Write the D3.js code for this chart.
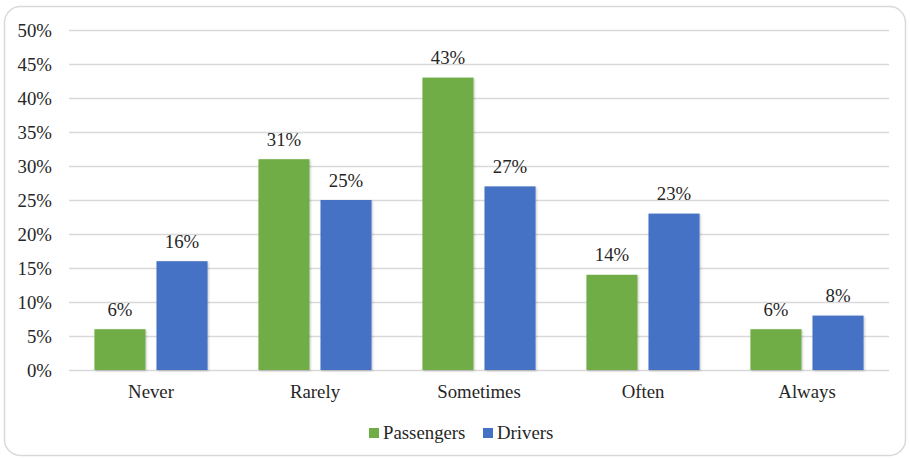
<!DOCTYPE html>
<html>
<head>
<meta charset="utf-8">
<script src="https://cdn.jsdelivr.net/npm/d3@7"></script>
<style>
  html, body { margin: 0; padding: 0; background: #fff; }
  svg { display: block; }
</style>
</head>
<body>
<svg id="chart" width="910" height="459"></svg>
<script>
// Survey responses by frequency, share of respondents (%)
const categories = ["Never", "Rarely", "Sometimes", "Often", "Always"];
const seriesNames = ["Passengers", "Drivers"];
const passengers = [6, 31, 43, 14, 6];
const drivers = [16, 25, 27, 23, 8];
const yTicks = [0, 5, 10, 15, 20, 25, 30, 35, 40, 45, 50];
const colors = ["#70AD47", "#4472C4"];

const FONT = "'Liberation Serif', 'Times New Roman', Times, serif";
const FONT_SIZE = "18.8px";
const TEXT_COLOR = "#262626";

const svg = d3.select("#chart");
const W = 910, H = 459;

// Rounded outer frame
svg.append("rect")
  .attr("x", 4.5).attr("y", 6.5)
  .attr("width", W - 9).attr("height", H - 10)
  .attr("rx", 16).attr("ry", 16)
  .attr("fill", "#fff")
  .attr("stroke", "#d9d9d9").attr("stroke-width", 1.5);

const plot = { left: 69, right: 889, top: 30, bottom: 370 };

const x0 = d3.scaleBand().domain(categories).range([plot.left, plot.right]);
const x1 = d3.scaleBand().domain(seriesNames).range([0, x0.bandwidth()]).paddingInner(0.177).paddingOuter(0.41);
const y = d3.scaleLinear().domain([0, 50]).range([plot.bottom, plot.top]);

// Soft shadow under bars
const defs = svg.append("defs");
const f = defs.append("filter").attr("id", "shadow").attr("x", "-20%").attr("y", "-20%").attr("width", "140%").attr("height", "140%");
f.append("feDropShadow").attr("dx", 1).attr("dy", 1).attr("stdDeviation", 1.2).attr("flood-color", "#000").attr("flood-opacity", 0.22);

// Gridlines
svg.append("g")
  .selectAll("line")
  .data(yTicks)
  .join("line")
  .attr("x1", plot.left).attr("x2", plot.right)
  .attr("y1", d => Math.round(y(d)) + 0.5).attr("y2", d => Math.round(y(d)) + 0.5)
  .attr("stroke", "#d9d9d9").attr("stroke-width", 1.5);

function styleText(sel) {
  sel.style("font-family", FONT).style("font-size", FONT_SIZE).attr("fill", TEXT_COLOR);
}

// Y axis labels
const yAxis = d3.axisLeft(y).tickValues(yTicks).tickFormat(d => d + "%").tickSize(0).tickPadding(17);
const yg = svg.append("g").attr("transform", `translate(${plot.left},0)`).call(yAxis);
yg.select(".domain").remove();
yg.selectAll("text").call(styleText).attr("dy", "0.33em");

// X axis labels
const xAxis = d3.axisBottom(x0).tickSize(0).tickPadding(15);
const xg = svg.append("g").attr("transform", `translate(0,${plot.bottom})`).call(xAxis);
xg.select(".domain").remove();
xg.selectAll("text").call(styleText);

// Bars
const rows = categories.map((c, i) => ({ cat: c, vals: [passengers[i], drivers[i]] }));
const groups = svg.append("g").selectAll("g")
  .data(rows)
  .join("g")
  .attr("transform", d => `translate(${x0(d.cat)},0)`);

groups.selectAll("rect")
  .data(d => d.vals.map((v, j) => ({ name: seriesNames[j], v, j })))
  .join("rect")
  .attr("x", d => x1(d.name))
  .attr("width", x1.bandwidth())
  .attr("y", d => y(d.v))
  .attr("height", d => y(0) - y(d.v))
  .attr("fill", d => colors[d.j])
  .attr("filter", "url(#shadow)");

// Value labels
groups.selectAll("text.val")
  .data(d => d.vals.map((v, j) => ({ name: seriesNames[j], v, j })))
  .join("text")
  .attr("class", "val")
  .attr("x", d => x1(d.name) + x1.bandwidth() / 2)
  .attr("y", d => y(d.v) - 13.5)
  .attr("text-anchor", "middle")
  .call(styleText)
  .text(d => d.v + "%");

// Legend
const legend = svg.append("g").attr("transform", "translate(369,428)");
const lx = [0, 114];
seriesNames.forEach((name, j) => {
  const g = legend.append("g").attr("transform", `translate(${lx[j]},0)`);
  g.append("rect").attr("width", 10).attr("height", 10).attr("fill", colors[j]);
  g.append("text").attr("x", 14).attr("y", 11).call(styleText).text(name);
});
</script>
</body>
</html>
